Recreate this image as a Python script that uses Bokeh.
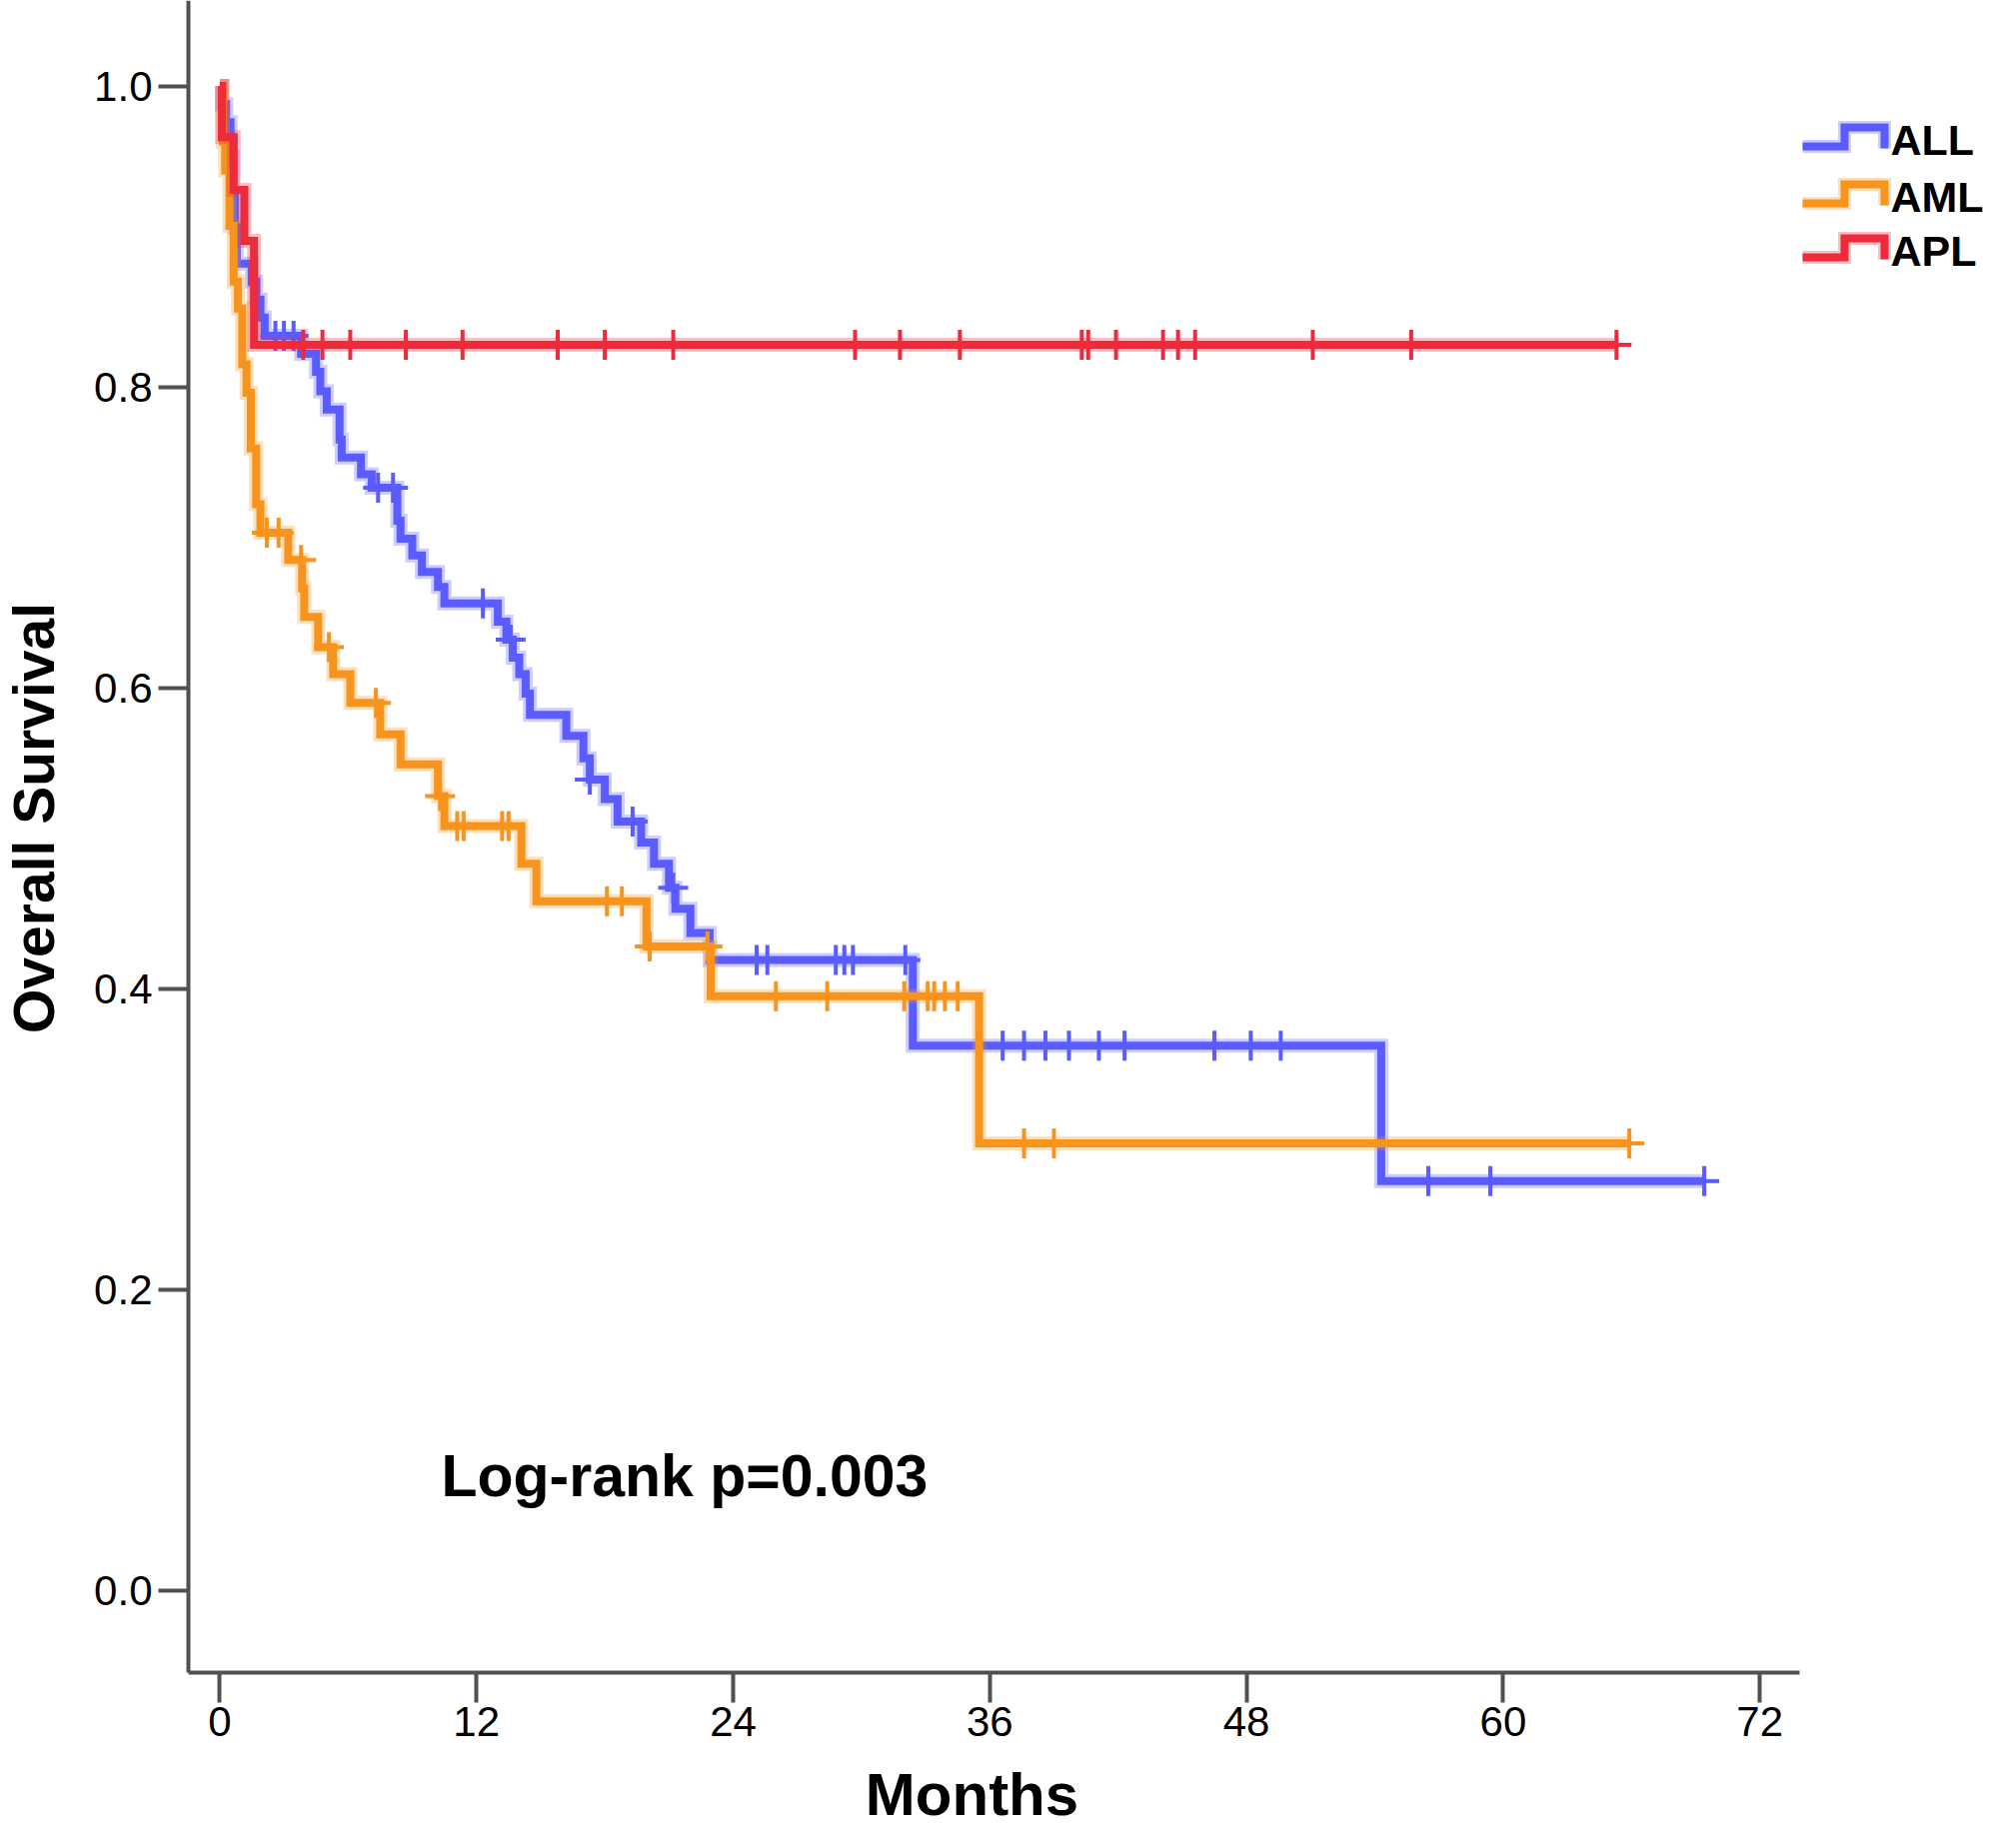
import numpy as np
from bokeh.plotting import figure
from bokeh.models import Range1d, FixedTicker, PrintfTickFormatter
from bokeh.core.properties import value
from bokeh.embed import file_html
from bokeh.resources import INLINE

# ---------------- data ----------------
groups = ["ALL", "AML", "APL"]
colors = ["#5a5cff", "#f7941d", "#ee2b3a"]

# Kaplan-Meier steps: event times (months) and survival after each event; last entry = end of follow-up
all_t = [0, 0.1, 0.3, 0.5, 0.6, 0.7, 0.8, 1.5, 1.7, 1.9, 2.1, 3.8, 4.5, 4.7, 5.0, 5.6, 5.7, 6.6, 7.1,
         8.3, 8.45, 9.0, 9.45, 10.2, 10.5, 13.0, 13.4, 13.7, 14.0, 14.3, 14.5, 16.2, 17.0, 17.3, 18.0,
         18.6, 19.7, 20.3, 21.0, 21.3, 22.0, 22.9, 32.4, 54.3, 69.4]
all_s = [1.0, 0.988, 0.976, 0.953, 0.929, 0.906, 0.882, 0.870, 0.858, 0.846, 0.834, 0.822, 0.810, 0.797,
         0.785, 0.765, 0.753, 0.742, 0.733, 0.711, 0.699, 0.688, 0.677, 0.667, 0.656, 0.644, 0.632, 0.620,
         0.609, 0.596, 0.582, 0.568, 0.553, 0.539, 0.526, 0.511, 0.497, 0.483, 0.467, 0.453, 0.437, 0.419,
         0.362, 0.272, 0.272]
all_c = [2.6, 3.0, 3.45, 7.4, 8.1, 12.3, 13.6, 17.3, 19.3, 21.2, 25.1, 25.6, 28.8, 29.2, 29.6, 32.05,
         36.6, 37.6, 38.6, 39.7, 41.1, 42.3, 46.5, 48.2, 49.6, 56.5, 59.4, 69.4]

aml_t = [0, 0.15, 0.25, 0.45, 0.65, 0.85, 1.05, 1.25, 1.45, 1.7, 1.9, 3.2, 3.85, 3.95, 4.6, 5.3, 6.1,
         7.5, 8.45, 10.2, 10.5, 14.1, 14.8, 19.95, 22.95, 35.5, 65.9]
aml_s = [1.0, 0.963, 0.944, 0.907, 0.870, 0.852, 0.815, 0.796, 0.759, 0.722, 0.703, 0.685, 0.666, 0.647,
         0.627, 0.609, 0.590, 0.569, 0.549, 0.528, 0.508, 0.483, 0.458, 0.428, 0.395, 0.297, 0.297]
aml_c = [2.2, 2.75, 3.8, 5.1, 7.3, 10.3, 11.1, 11.4, 13.2, 13.5, 18.1, 18.8, 20.1, 22.8, 26.0, 28.4,
         32.0, 33.1, 33.4, 33.9, 34.5, 37.6, 39.0, 65.9]

apl_t = [0, 0.1, 0.65, 1.15, 1.6, 65.3]
apl_s = [1.0, 0.966, 0.931, 0.897, 0.828, 0.828]
apl_c = [3.9, 4.8, 6.1, 8.7, 11.35, 15.8, 18.0, 21.2, 29.7, 31.8, 34.6, 40.3, 40.6, 41.9, 44.1, 44.8,
         45.6, 51.1, 55.7, 65.3]

x_ticks = [0, 12, 24, 36, 48, 60, 72]
y_ticks = [0.0, 0.2, 0.4, 0.6, 0.8, 1.0]

x_title = "Months"
y_title = "Overall Survival"
note = "Log-rank p=0.003"

# ---------------- layout (pixel geometry of the canvas) ----------------
W, H = 1984, 1833
PX_PER_MONTH = 21.4
X0_PX = 219.4           # px of month 0
PX_PER_UNIT = 1505.0
Y0_PX = 1590.6          # px (from top) of survival 0
AXIS_X_PX = 188         # px of the y-axis line
AXIS_Y_PX = 1673        # px of the x-axis line
AXIS_END_PX = 1800      # right end of the x-axis line


def px_x(px):
    return (px - X0_PX) / PX_PER_MONTH


def px_y(py):
    return (Y0_PX - py) / PX_PER_UNIT


p = figure(width=W, height=H, x_range=Range1d(px_x(0), px_x(W)), y_range=Range1d(px_y(H), px_y(0)),
           output_backend="svg", toolbar_location=None,
           min_border_left=0, min_border_bottom=0, min_border_top=0, min_border_right=0)
p.background_fill_color = "white"
p.border_fill_color = "white"
p.outline_line_color = None
p.xgrid.visible = False
p.ygrid.visible = False

AX = "#505050"
for ax in (p.xaxis[0], p.yaxis[0]):
    ax.axis_line_color = AX
    ax.axis_line_width = 4
    ax.major_tick_line_color = AX
    ax.major_tick_line_width = 4
    ax.major_tick_out = 30
    ax.major_tick_in = 0
    ax.minor_tick_out = 0
    ax.minor_tick_in = 0
    ax.major_label_text_font = "Liberation Sans"
    ax.major_label_text_color = "black"
    ax.major_label_text_font_size = "42px"

p.xaxis.major_label_standoff = 4
p.yaxis.major_label_standoff = 6
p.xaxis.ticker = FixedTicker(ticks=x_ticks)
p.yaxis.ticker = FixedTicker(ticks=y_ticks)
p.yaxis.formatter = PrintfTickFormatter(format="%.1f")
p.xaxis.fixed_location = px_y(AXIS_Y_PX)
p.yaxis.fixed_location = px_x(AXIS_X_PX)
p.xaxis.bounds = (px_x(AXIS_X_PX), px_x(AXIS_END_PX))
p.yaxis.bounds = (px_y(AXIS_Y_PX), px_y(0))

series = [(all_t, all_s, all_c), (aml_t, aml_s, aml_c), (apl_t, apl_s, apl_c)]
for (t, s, c), col in zip(series, colors):
    t = np.array(t, dtype=float)
    s = np.array(s, dtype=float)
    p.step(t, s, mode="after", line_color=col, line_width=14, line_alpha=0.3, line_join="miter")
    p.step(t, s, mode="after", line_color=col, line_width=8, line_join="miter")
    c = np.array(c, dtype=float)
    idx = np.searchsorted(t, c, side="right") - 1
    p.scatter(c, s[idx], marker="cross", size=30, line_color=col, line_width=4)

# legend (step-shaped keys)
row_y = [139, 196, 250]
for name, col, cy in zip(groups, colors, row_y):
    kx = [px_x(1803), px_x(1845), px_x(1845), px_x(1885), px_x(1885)]
    ky = [px_y(cy + 7), px_y(cy + 7), px_y(cy - 12), px_y(cy - 12), px_y(cy + 9)]
    p.line(kx, ky, line_color=col, line_width=13, line_alpha=0.3, line_join="miter")
    p.line(kx, ky, line_color=col, line_width=8, line_join="miter")
p.text(x=[px_x(1891)] * 3, y=[px_y(cy) for cy in row_y], text=groups,
       text_font=value("Liberation Sans"), text_font_style="bold", text_font_size="43px",
       text_baseline="middle", text_align="left", text_color="black")

# annotation text and axis titles
p.text(x=[px_x(441)], y=[px_y(1476)], text=[note], text_font=value("Liberation Sans"),
       text_font_style="bold", text_font_size="59px", text_color="black",
       text_align="left", text_baseline="alphabetic")
p.text(x=[px_x(33)], y=[px_y(818)], text=[y_title], angle=np.pi / 2, text_font=value("Liberation Sans"),
       text_font_style="bold", text_font_size="57px", text_color="black",
       text_align="center", text_baseline="alphabetic")
p.text(x=[px_x(972)], y=[px_y(1795)], text=[x_title], text_font=value("Liberation Sans"),
       text_font_style="bold", text_font_size="60px", text_color="black",
       text_align="center", text_baseline="alphabetic")

open("out.html", "w").write(file_html(p, INLINE))
